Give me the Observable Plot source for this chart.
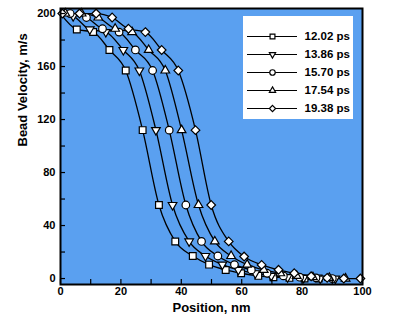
<!DOCTYPE html>
<html><head><meta charset="utf-8">
<script src="https://cdn.jsdelivr.net/npm/d3@7"></script>
<script src="https://cdn.jsdelivr.net/npm/@observablehq/plot@0.6"></script>
<style>
body{margin:0;background:#fff;}
#wrap{position:relative;width:394px;height:328px;}
#legend{position:absolute;left:243px;top:16px;width:110px;height:103px;background:#fff;}
</style>
</head><body><div id="wrap"></div>
<script>
const seriesLabels = ["12.02 ps", "13.86 ps", "15.70 ps", "17.54 ps", "19.38 ps"];
const seriesSymbols = ["square", "triangle", "circle", "triangle", "diamond2"];
const seriesRotate = [0, 180, 0, 0, 0];

const posA = [0, 5.4, 10.8, 16.2, 21.6, 27.2, 32.6, 38.0, 43.8, 49.2, 54.7, 59.8, 65.5, 70.5, 75.8, 80.8, 85.5];
const velA = [200, 188, 186, 172.5, 157, 112, 55.5, 28, 17, 10.5, 6.5, 4, 2, 1, 0.5, 0, 0];

const posB = [0, 4.2, 9.7, 15.0, 20.8, 26.1, 31.6, 37.1, 42.6, 48.0, 53.6, 58.9, 64.5, 69.8, 75.2, 80.5, 86.0, 91.0];
const velB = [200, 198, 188, 186, 172.5, 157, 112, 55.5, 28, 17, 10.5, 6.5, 4, 2, 1, 0.5, 0, 0];

const posC = [0, 3.2, 8.6, 13.9, 19.4, 24.8, 30.5, 36.0, 41.5, 46.7, 52.1, 57.6, 63.2, 68.4, 73.8, 79.2, 84.6, 90.0];
const velC = [200, 200, 197, 188.5, 186, 172.5, 157, 112, 55.5, 28, 17, 10.5, 6.5, 4, 2, 1, 0.5, 0];

const posD = [0, 1.6, 7.0, 12.5, 18.1, 23.7, 29.2, 34.7, 40.1, 45.7, 51.1, 56.5, 61.8, 67.3, 72.8, 78.2, 83.6, 89.0, 94.4];
const velD = [200, 200, 200, 197, 188.5, 186, 172.5, 157, 112, 55.5, 28, 17, 10.5, 6.5, 4, 2, 1, 0.5, 0];

const posE = [0.6, 6.3, 11.8, 17.1, 22.5, 28.1, 33.5, 39.0, 44.7, 49.9, 55.7, 60.8, 66.6, 72.2, 77.4, 83.0, 88.3, 93.8, 99.3];
const velE = [200, 200, 200, 197, 188.5, 186, 172.5, 157, 112, 55.5, 28, 16.6, 10.3, 6.6, 4, 1.7, 0.5, 0, 0];

const xMajorTicks = [0, 20, 40, 60, 80, 100];
const xMinorTicks = [0, 10, 20, 30, 40, 50, 60, 70, 80, 90, 100];
const yMajorTicks = [0, 40, 80, 120, 160, 200];
const yMinorTicks = [0, 20, 40, 60, 80, 100, 120, 140, 160, 180, 200];

const xLabel = "Position, nm";
const yLabel = "Bead Velocity, m/s";

const positions = [posA, posB, posC, posD, posE];
const velocities = [velA, velB, velC, velD, velE];
const series = seriesLabels.map((label, i) => ({
  label, symbol: seriesSymbols[i], rotate: seriesRotate[i],
  data: positions[i].map((p, j) => ({pos: p, vel: velocities[i][j]}))
}));

const symR = {square: 3.8, triangle: 3.2, circle: 3.8, diamond2: 3.9};
const font = "Liberation Sans, Arial, sans-serif";
const blue = "#5aa0f0";

const marks = [
  Plot.frame({fill: blue}),
  ...series.map(s => Plot.line(s.data, {x: "pos", y: "vel", curve: "monotone-x", stroke: "black", strokeWidth: 1.3})),
  ...series.map(s => Plot.dot(s.data.filter(d => d.pos > 0), {x: "pos", y: "vel", symbol: s.symbol, rotate: s.rotate, r: symR[s.symbol], fill: "white", stroke: "black", strokeWidth: 1.2})),
  Plot.frame({stroke: "black", strokeWidth: 2}),
  Plot.axisY({ticks: yMinorTicks, tickSize: 5, dx: 5, tickFormat: () => "", label: null, strokeWidth: 1.2}),
  Plot.axisY({ticks: yMajorTicks, tickSize: 0, tickPadding: 5, label: null, fontSize: 11, fontWeight: "bold", fill: "black"}),
  Plot.axisX({ticks: xMinorTicks, tickSize: 5, dy: -5, tickFormat: () => "", label: null, strokeWidth: 1.2}),
  Plot.axisX({ticks: xMajorTicks, tickSize: 0, tickPadding: 3, label: null, fontSize: 11, fontWeight: "bold", fill: "black"}),
  Plot.text([xLabel], {frameAnchor: "bottom", dy: 27, text: d => d, fontSize: 13, fontWeight: "bold", fill: "black"}),
  Plot.text([yLabel], {frameAnchor: "left", dx: -38, rotate: -90, text: d => d, fontSize: 13, fontWeight: "bold", fill: "black"})
];

const chart = Plot.plot({
  width: 394, height: 328,
  marginLeft: 60, marginRight: 32, marginTop: 8, marginBottom: 44,
  x: {domain: [0, 100]},
  y: {domain: [-4.5, 203.8]},
  style: {fontFamily: font, background: "white", color: "black"},
  marks
});
document.getElementById("wrap").appendChild(chart);

const legendMarks = [
  Plot.ruleY(seriesLabels, {y: d => d, x1: 0, x2: 1, stroke: "black", strokeWidth: 1.2}),
  ...series.map(s => Plot.dot([s.label], {x: 0.5, y: d => d, symbol: s.symbol, rotate: s.rotate, r: symR[s.symbol] * 0.72, fill: "white", stroke: "black", strokeWidth: 1.2})),
  Plot.text(seriesLabels, {x: 1, y: d => d, text: d => d, dx: 7, textAnchor: "start", fontSize: 11.5, fontWeight: "bold", fill: "black"})
];
const legend = Plot.plot({
  width: 110, height: 103,
  marginLeft: 0, marginRight: 0, marginTop: 0, marginBottom: 0,
  x: {domain: [0, 1], range: [4, 54], axis: null},
  y: {type: "point", domain: seriesLabels, range: [19, 93.3], padding: 0, axis: null},
  style: {fontFamily: font, background: "white", color: "black"},
  marks: legendMarks
});
const lg = document.createElement("div");
lg.id = "legend";
lg.appendChild(legend);
document.getElementById("wrap").appendChild(lg);
</script>
</body></html>
